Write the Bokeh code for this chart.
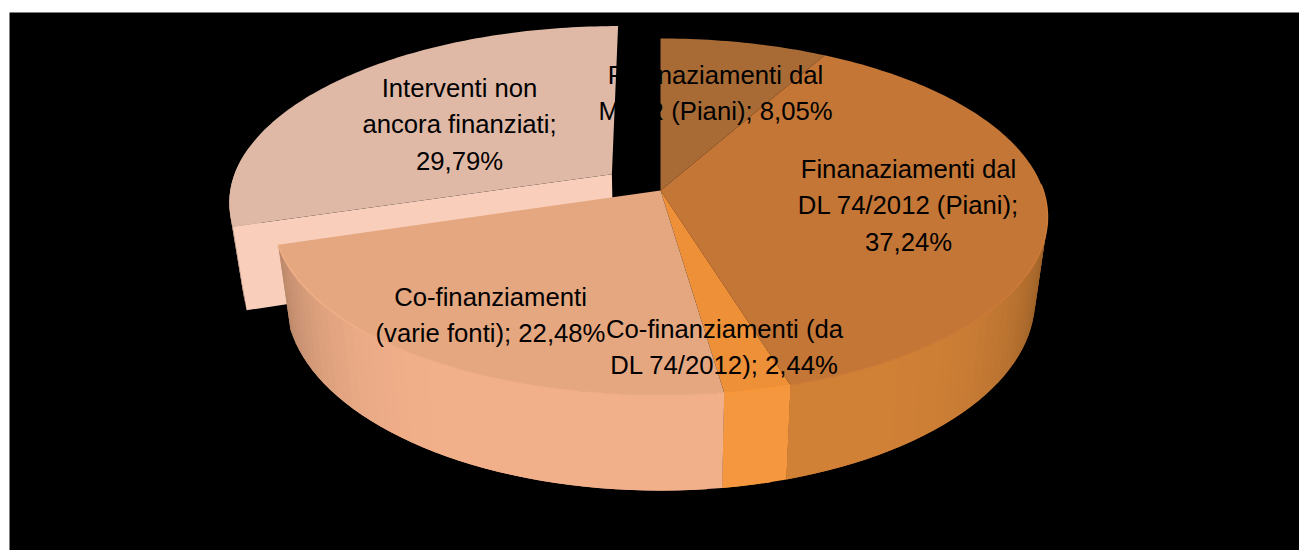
import math
from bokeh.plotting import figure
from bokeh.models import Range1d, ColumnDataSource
from bokeh.core.properties import value
from bokeh.embed import file_html
from bokeh.resources import INLINE

# ---- data ----
categories = ["Finanaziamenti dal MIUR (Piani)", "Finanaziamenti dal DL 74/2012 (Piani)",
              "Co-finanziamenti (da DL 74/2012)", "Co-finanziamenti (varie fonti)",
              "Interventi non ancora finanziati"]
shares = [8.05, 37.24, 2.44, 22.48, 29.79]
label_lines = [["Finanaziamenti dal", "MIUR (Piani); 8,05%"],
               ["Finanaziamenti dal", "DL 74/2012 (Piani);", "37,24%"],
               ["Co-finanziamenti (da", "DL 74/2012); 2,44%"],
               ["Co-finanziamenti", "(varie fonti); 22,48%"],
               ["Interventi non", "ancora finanziati;", "29,79%"]]

# ---- styles / layout ----
top_colors = ["#A96B36", "#C47636", "#EE9038", "#E5A780", "#DFB9A6"]
rim_colors = ["#A96B36", "#D28237", "#F5983F", "#F3B18B", "#F6CBB6"]
wall_color = "#F9CFBC"
explode = [0, 0, 0, 0, 0.16]
label_anchor = [(715, 74), (908, 168), (724, 328), (490, 296), (459, 87)]
LINE_STEP = 36.7
FONT = "Liberation Sans"
FONT_SIZE = "25.7px"

W, H = 1299, 550
X0, Y0 = 660.0, 190.0     # pie apex on the page
A, B, K = 382.7, 174.6, 0.1485
DEPTH, TAPER = 81.0, 0.968


def project(u, v, low=False):
    d = 1 + K * v
    if low:
        return X0 + A * TAPER * u / d, Y0 + (DEPTH - B * v) / d
    return X0 + A * u / d, Y0 - B * v / d


def shade(hex_color, f):
    r, g, b = [int(hex_color[i:i + 2], 16) for i in (1, 3, 5)]
    return "#%02X%02X%02X" % (min(255, int(r * f)), min(255, int(g * f)), min(255, int(b * f)))


def angles(a0, a1, step=1.0):
    n = max(2, int((a1 - a0) / step) + 1)
    return [a0 + (a1 - a0) * i / (n - 1) for i in range(n)]


def offset(idx, a0, a1):
    mid = math.radians((a0 + a1) / 2)
    return explode[idx] * math.sin(mid), explode[idx] * math.cos(mid)


# slice limits, clockwise from twelve o'clock in the pie's plane
limits = []
acc = 0.0
total = sum(shares)
for s in shares:
    limits.append((acc * 360 / total, (acc + s) * 360 / total))
    acc += s

xs, ys, cols = [], [], []


def add(poly, col):
    xs.append([q[0] for q in poly])
    ys.append([q[1] for q in poly])
    cols.append(col)


def draw_rim(i):
    # strips overlap the next one so that no seam shows through to the black
    a0, a1 = limits[i]
    du, dv = offset(i, a0, a1)
    seq = angles(a0, a1, 2.0)
    for k, (t0, t1) in enumerate(zip(seq[:-1], seq[1:])):
        te = seq[min(k + 2, len(seq) - 1)]
        r0, r1 = math.radians(t0), math.radians(te)
        rm = math.radians((t0 + t1) / 2)
        u0, v0, u1, v1 = math.sin(r0), math.cos(r0), math.sin(r1), math.cos(r1)
        if v0 > 0.1 and v1 > 0.1:
            continue
        f = 1 - 0.30 * abs(math.sin(rm)) ** 6
        add([project(u0 + du, v0 + dv), project(u1 + du, v1 + dv),
             project(u1 + du, v1 + dv, True), project(u0 + du, v0 + dv, True)],
            shade(rim_colors[i], f))


def draw_top(i):
    a0, a1 = limits[i]
    du, dv = offset(i, a0, a1)
    poly = [project(du, dv)]
    for t in angles(a0, a1, 1.0):
        r = math.radians(t)
        poly.append(project(math.sin(r) + du, math.cos(r) + dv))
    add(poly, top_colors[i])


# exploded slice first: it lies behind the rest
for i in [4]:
    a0, a1 = limits[i]
    du, dv = offset(i, a0, a1)
    r = math.radians(a0)
    draw_rim(i)
    add([project(du, dv), project(math.sin(r) + du, math.cos(r) + dv),
         project(math.sin(r) + du, math.cos(r) + dv, True), project(du, dv, True)], wall_color)
    draw_top(i)

for i in [0, 1, 2, 3]:
    draw_rim(i)
for i in [0, 1, 2, 3]:
    draw_top(i)

# faint highlight on the rim's upper edge
hl_x, hl_y, hl_c = [], [], []
for i in [1, 2, 3]:
    a0, a1 = limits[i]
    seq = [t for t in angles(a0, a1, 1.0) if math.cos(math.radians(t)) < 0.05]
    pts = [project(math.sin(math.radians(t)), math.cos(math.radians(t))) for t in seq]
    hl_x.append([q[0] for q in pts])
    hl_y.append([q[1] for q in pts])
    hl_c.append(shade(top_colors[i], 1.05))

p = figure(width=W, height=H, output_backend="svg", toolbar_location=None,
           x_range=Range1d(0, W), y_range=Range1d(H, 0),
           min_border=0, outline_line_color=None, background_fill_color="white",
           border_fill_color="white")
p.axis.visible = False
p.grid.visible = False

p.quad(left=[9], right=[W], top=[12], bottom=[H], fill_color="black", line_color=None)
p.patches(xs="xs", ys="ys", fill_color="c", line_color=None,
          source=ColumnDataSource(dict(xs=xs, ys=ys, c=cols)))
p.multi_line(xs="x", ys="y", line_color="c", line_width=1.5,
             source=ColumnDataSource(dict(x=hl_x, y=hl_y, c=hl_c)))

tx, ty, tt = [], [], []
for (ax, ay), lines in zip(label_anchor, label_lines):
    for n, line in enumerate(lines):
        tx.append(ax)
        ty.append(ay + n * LINE_STEP)
        tt.append(line)
p.text(x="x", y="y", text="t", source=ColumnDataSource(dict(x=tx, y=ty, t=tt)),
       text_color="black", text_align="center", text_baseline="alphabetic",
       text_font=value(FONT), text_font_size=value(FONT_SIZE))

open("out.html", "w").write(file_html(p, INLINE))
